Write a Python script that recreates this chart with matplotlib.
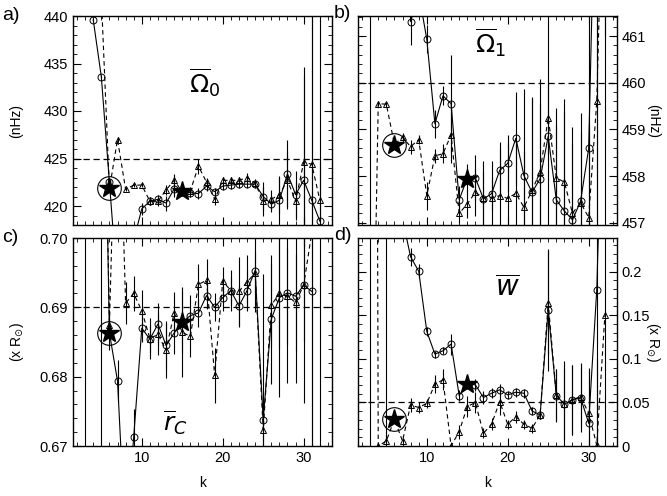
import numpy as np
import matplotlib
matplotlib.use('Agg')
import matplotlib.pyplot as plt
from matplotlib.ticker import MultipleLocator

plt.rcParams['font.family'] = ['Liberation Sans', 'DejaVu Sans']
plt.rcParams['mathtext.fontset'] = 'dejavusans'

nan = np.nan
k = np.arange(3, 33)  # k = 3 .. 32

# a) Omega_0 (nHz)
circ_a = [nan, 439.6, 433.6, 422.5, 411.3, 408.0, 416.4, 419.7, 420.5, 420.7,
          420.3, 421.8, 421.6, 421.4, 421.3, 422.1, 421.5, 422.1, 422.2, 422.3,
          422.3, 422.3, 421.0, 420.2, 420.6, 423.4, 421.2, 422.7, 420.6, 418.4]
circ_a_err = [0, 0.2, 0.2, 0.3, 1, 1, 1, 0.6, 0.4, 0.5,
              0.8, 0.8, 0.5, 0.5, 0.6, 0.5, 0.4, 0.4, 0.4, 0.4,
              0.4, 0.4, 1.5, 0.8, 2.5, 3.5, 2.5, 11, 30, 30]
tri_a = [nan, nan, 442.0, 421.8, 427.0, 421.75, 422.2, 422.2, 420.5, 420.5,
         421.7, 422.7, 421.5, 421.6, 424.2, 422.5, 420.7, 422.7, 422.7, 422.7,
         423.0, 422.4, 420.5, 420.7, 421.2, 422.7, 420.5, 424.6, 424.4, 420.6]
tri_a_err = [0, 0, 0.5, 0.3, 0.3, 0.2, 0.2, 0.2, 0.4, 0.5,
             0.5, 0.7, 0.4, 0.4, 0.8, 0.5, 0.6, 0.4, 0.4, 0.4,
             0.5, 0.4, 1.5, 1.0, 2.0, 3.0, 2.0, 10, 30, 4]

# b) Omega_1 (nHz)
circ_b = [470, 466, 466, 466, 466, 461.31, 461.93, 460.93, 459.12, 459.72,
          459.55, 457.49, 457.96, 457.96, 457.51, 457.62, 458.12, 458.27, 458.81, 458.01,
          457.65, 457.94, 458.85, 457.49, 457.25, 457.06, 457.46, 458.59, 466, 466]
circ_b_err = [30, 0.5, 0.5, 0.5, 0.5, 0.5, 0.5, 0.3, 0.3, 0.2,
              1.05, 0.3, 0.3, 0.5, 0.6, 0.35, 0.6, 0.6, 1.0, 1.85,
              2.0, 1.6, 5, 1.6, 2.4, 2.0, 1.9, 3, 30, 30]
tri_b = [450, 459.55, 459.54, 458.68, 458.83, 458.63, 458.78, 457.58, 458.43, 458.48,
         458.88, 457.2, 457.4, 457.65, 457.53, 457.53, 457.58, 457.52, 457.63, 457.33,
         457.69, 458.09, 459.25, 457.96, 457.87, 457.2, 457.43, 457.11, 459.61, 466]
tri_b_err = [0, 0.05, 0.05, 0.05, 0.1, 0.15, 0.1, 0.3, 0.15, 0.2,
             0.6, 0.2, 0.3, 0.5, 0.8, 0.8, 1.0, 1.2, 1.1, 1.2,
             2.0, 2.0, 0.8, 1.5, 1.5, 1.5, 1.5, 2, 5, 5]

# c) r_c (x R_sun)
circ_c = [0.75, 0.75, 0.75, 0.6863, 0.6794, 0.656, 0.6713, 0.687, 0.6854, 0.6876,
          0.6845, 0.6863, 0.6879, 0.6888, 0.6892, 0.6917, 0.690, 0.6914, 0.6924, 0.6902,
          0.6924, 0.6953, 0.6738, 0.6883, 0.6914, 0.6921, 0.6916, 0.6932, 0.6923, nan]
circ_c_err = [0.2, 0, 0.2, 0.0025, 0.003, 0.003, 0.004, 0.002, 0.002, 0.003,
              0.0035, 0.003, 0.0045, 0.003, 0.002, 0.002, 0.002, 0.002, 0.002, 0.003,
              0.003, 0.006, 0.021, 0.0093, 0.0144, 0.013, 0.0125, 0.017, 0.03, 0]
tri_c = [nan, nan, 0.75, 0.6875, 0.73, 0.6906, 0.692, 0.6895, 0.6855, 0.6861,
         0.6838, 0.6892, 0.6864, 0.6858, 0.6933, 0.6939, 0.6802, 0.6938, 0.6924, 0.6923,
         0.6936, 0.695, 0.6723, 0.6903, 0.692, 0.6916, 0.6907, 0.6932, 0.7008, 0.75]
tri_c_err = [0, 0, 0, 0.002, 0, 0.003, 0.0025, 0.003, 0.003, 0.003,
             0.004, 0.003, 0.0065, 0.003, 0.003, 0.003, 0.004, 0.002, 0.003, 0.005,
             0.004, 0.003, 0.003, 0.006, 0.008, 0.007, 0.007, 0.008, 0.05, 0.2]

# d) w (x R_sun)
circ_d = [0.5, 0.5, 0.5, 0.5, 0.26, 0.2169, 0.2004, 0.1314, 0.1054, 0.1092,
          0.1169, 0.0579, 0.0709, 0.0701, 0.0556, 0.0605, 0.0644, 0.0586, 0.0617, 0.0605,
          0.0402, 0.0356, 0.1563, 0.0579, 0.0479, 0.0529, 0.0556, 0.026, 0.1793, 0.5]
circ_d_err = [1, 0, 1, 0, 0.01, 0.01, 0.008, 0.005, 0.004, 0.004,
              0.012, 0.006, 0.005, 0.007, 0.007, 0.006, 0.007, 0.005, 0.005, 0.005,
              0.005, 0.005, 0.07, 0.03, 0.05, 0.04, 0.04, 0.063, 1, 1]
tri_d = [3.0, 0.0, 0.0057, 0.0307, 0.0057, 0.0471, 0.0441, 0.049, 0.0709, 0.0759,
         0.0, 0.0165, 0.0452, 0.0498, 0.0146, 0.0249, 0.051, 0.0249, 0.0337, 0.0249,
         0.0203, 0.0356, 0.164, 0.0586, 0.0479, 0.0529, 0.0567, 0.0375, 0.001, 0.1498]
tri_d_err = [0, 0, 0.002, 0.002, 0.002, 0.008, 0.006, 0.005, 0.01, 0.012,
             0, 0.008, 0.012, 0.012, 0.006, 0.007, 0.015, 0.005, 0.007, 0.005,
             0.005, 0.005, 0.06, 0.03, 0.04, 0.04, 0.035, 0.05, 0.1, 0]

# reference stars (k = 6 circled, k = 15)
star_k = [6, 15]
star_a = [421.9, 421.6]
star_b = [458.67, 457.94]
star_c = [0.6863, 0.6879]
star_d = [0.0307, 0.0709]

ref_a, ref_b, ref_c, ref_d = 425, 460, 0.69, 0.05

fig = plt.figure(figsize=(6.67, 4.96), dpi=100)
W = 259 / 667
ax_a = fig.add_axes([73 / 667, 1 - 225 / 496, W, 209 / 496])
ax_b = fig.add_axes([358 / 667, 1 - 225 / 496, W, 209 / 496])
ax_c = fig.add_axes([73 / 667, 1 - 446 / 496, W, 208 / 496])
ax_d = fig.add_axes([358 / 667, 1 - 446 / 496, W, 208 / 496])


def panel(ax, circ, circ_err, tri, tri_err, stars, ref, ylim, major, minor):
    ax.errorbar(k, circ, yerr=circ_err, fmt='o', ls='-', color='k', lw=0.8,
                ms=5, mfc='none', mew=0.7, elinewidth=0.8, capsize=0)
    ax.errorbar(k, tri, yerr=tri_err, fmt='^', ls=(0, (4, 3)), color='k', lw=0.8,
                ms=4.5, mfc='none', mew=0.7, elinewidth=0.8, capsize=0)
    ax.plot(star_k, stars, ls='none', marker='*', ms=15, color='k', zorder=5)
    ax.plot(star_k[0], stars[0], ls='none', marker='o', ms=17, mfc='none',
            mec='k', mew=0.8, zorder=5)
    ax.axhline(ref, color='k', ls=(0, (5, 3)), lw=0.9)
    ax.set_xlim(1.5, 33.5)
    ax.set_ylim(*ylim)
    ax.xaxis.set_major_locator(MultipleLocator(10))
    ax.xaxis.set_minor_locator(MultipleLocator(1))
    ax.yaxis.set_major_locator(MultipleLocator(major))
    ax.yaxis.set_minor_locator(MultipleLocator(minor))
    ax.tick_params(which='both', direction='in', top=True, right=True,
                   labelsize=10.5)
    ax.tick_params(which='major', length=6)
    ax.tick_params(which='minor', length=3)
    for s in ax.spines.values():
        s.set_linewidth(1.0)


panel(ax_a, circ_a, circ_a_err, tri_a, tri_a_err, star_a, ref_a, (418, 440), 5, 1)
panel(ax_b, circ_b, circ_b_err, tri_b, tri_b_err, star_b, ref_b, (456.95, 461.43), 1, 0.2)
panel(ax_c, circ_c, circ_c_err, tri_c, tri_c_err, star_c, ref_c, (0.67, 0.70), 0.01, 0.002)
panel(ax_d, circ_d, circ_d_err, tri_d, tri_d_err, star_d, ref_d, (0, 0.2385), 0.05, 0.01)

ax_a.tick_params(labelbottom=False)
ax_b.tick_params(labelbottom=False, labelleft=False, labelright=True)
ax_d.tick_params(labelleft=False, labelright=True)
ax_c.yaxis.set_major_formatter(plt.FormatStrFormatter('%.2f'))
ax_d.yaxis.set_major_formatter(plt.FuncFormatter(lambda v, p: '0' if v == 0 else f'{v:g}'))

ax_a.set_ylabel('(nHz)', fontsize=10, labelpad=15)
ax_c.set_ylabel(r'(x R$_{\odot}$)', fontsize=10, labelpad=10)
ax_b.yaxis.set_label_position('right')
ax_b.set_ylabel('(nHz)', fontsize=10, rotation=-90, labelpad=10)
ax_d.yaxis.set_label_position('right')
ax_d.set_ylabel(r'(x R$_{\odot}$)', fontsize=10, rotation=-90, labelpad=8)
ax_c.set_xlabel('k', fontsize=10, labelpad=8)
ax_d.set_xlabel('k', fontsize=10, labelpad=8)

# titles inside panels
ax_a.text(17.8, 433, r'$\overline{\Omega}_{0}$', fontsize=18, ha='center', va='center')
ax_b.text(17.8, 460.85, r'$\overline{\Omega}_{1}$', fontsize=18, ha='center', va='center')
ax_c.text(14.2, 0.6733, r'$\overline{r}_{C}$', fontsize=18, ha='center', va='center')
ax_d.text(19.9, 0.181, r'$\overline{w}$', fontsize=20, ha='center', va='center',
          family='serif', style='italic')

fig.text(2 / 667, 1 - 16 / 496, 'a)', fontsize=14, va='center')
fig.text(334 / 667, 1 - 14 / 496, 'b)', fontsize=14, va='center')
fig.text(2 / 667, 1 - 238 / 496, 'c)', fontsize=14, va='center')
fig.text(334 / 667, 1 - 236 / 496, 'd)', fontsize=14, va='center')

fig.savefig('out.png', dpi=100)
